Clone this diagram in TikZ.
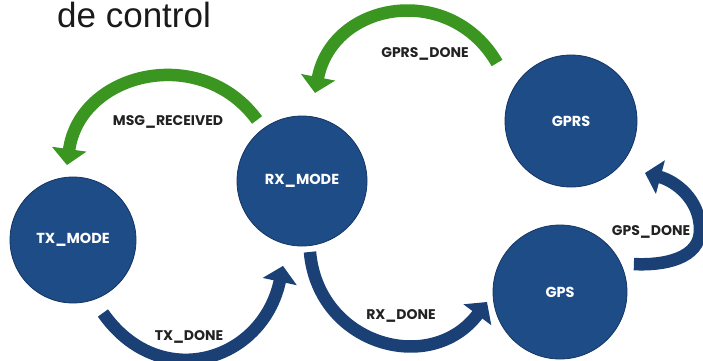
\documentclass[tikz,border=0pt]{standalone}
\usepackage{fontspec}
\setmainfont{Liberation Sans}
\newfontfamily\labelfont{Poppins}
\usetikzlibrary{arrows.meta,calc}

\definecolor{statefill}{RGB}{30,76,135}
\definecolor{stateedge}{RGB}{20,52,98}
\definecolor{greenflow}{RGB}{58,150,32}
\definecolor{blueflow}{RGB}{27,64,118}
\definecolor{labelink}{RGB}{34,34,34}
\definecolor{titleink}{RGB}{26,26,26}

\begin{document}
\begin{tikzpicture}[x=1pt,y=1pt,
  state/.style={circle, fill=statefill, draw=stateedge, line width=0.8pt,
    inner sep=0pt, text=white,
    font=\labelfont\bfseries\fontsize{14.5}{14.5}\selectfont},
  trans/.style={text=labelink, inner sep=0pt, anchor=base,
    font=\labelfont\bfseries\fontsize{14}{14}\selectfont},
  flow/.style={line width=12.5pt, -{Triangle[width=34pt,length=16pt]}},
  gflow/.style={flow, draw=greenflow},
  bflow/.style={flow, draw=blueflow},
]
\useasboundingbox (0,0) rectangle (703,360);

% heading
\node[anchor=base west, inner sep=0pt, text=titleink,
  font=\fontsize{35}{35}\selectfont] (title) at (57,333) {de control};

% states
\node[state, minimum size=126pt] (tx)   at (73,120)  {TX\_MODE};
\node[state, minimum size=130pt] (rx)   at (302,179) {RX\_MODE};
\node[state, minimum size=132pt] (gprs) at (571,239) {GPRS};
\node[state, minimum size=134pt] (gps)  at (560,68)  {GPS};

% transitions
\draw[gflow] ($(rx)+(126.4:75.8)$) to[out=126, in=82, looseness=1.24]
  ($(tx)+(94.6:75.2)$);
\draw[gflow] ($(gprs)+(141.9:94)$) to[out=120, in=79, looseness=1.3]
  ($(rx)+(81.6:89)$);
\draw[bflow] ($(tx)+(-67.7:78.9)$) to[out=305, in=258, looseness=1.35]
  ($(rx)+(257.4:87)$);
\draw[bflow] ($(rx)+(276.4:71.4)$) to[out=275, in=233, looseness=1.3]
  ($(gps)+(187.8:73.7)$);
\coordinate (gpsloop) at (700,130);
\draw[bflow] ($(gps)+(20.7:79)$) to[out=-3, in=-90] (gpsloop)
  to[out=90, in=-15] ($(gprs)+(-35.1:90.4)$);

% transition labels
\node[trans] (lmsg)  at (168,235) {MSG\_RECEIVED};
\node[trans] (lgprs) at (425,303) {GPRS\_DONE};
\node[trans] (ltx)   at (189,20)  {TX\_DONE};
\node[trans] (lrx)   at (401,41)  {RX\_DONE};
\node[trans] (lgps)  at (651,125) {GPS\_DONE};
\end{tikzpicture}
\end{document}
